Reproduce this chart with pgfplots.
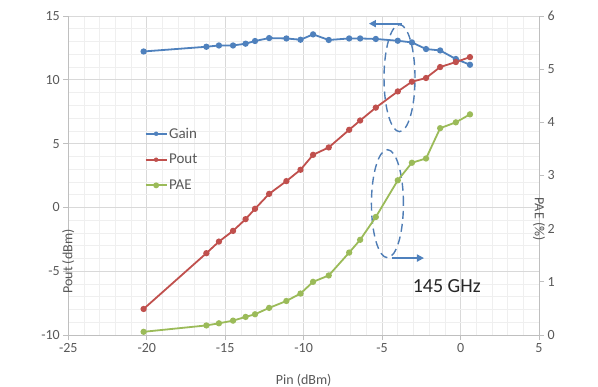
\documentclass[border=0pt]{standalone}
\usepackage{fontspec}
\setmainfont{Carlito}
\usepackage{pgfplots}
\pgfplotsset{compat=1.18}
\usetikzlibrary{arrows.meta}
\definecolor{cgain}{HTML}{4F81BD}
\definecolor{cpout}{HTML}{C0504D}
\definecolor{cpae}{HTML}{9BBB59}
\definecolor{ctxt}{HTML}{595959}
\definecolor{caxis}{HTML}{BFBFBF}
\definecolor{cgrid}{HTML}{D9D9D9}
\definecolor{cmgrid}{HTML}{EFEFEF}
\definecolor{cann}{HTML}{4F7DB5}
\pgfplotsset{
  common/.style={
    scale only axis, width=470.7bp, height=319bp,
    at={(68.3bp,52bp)}, anchor=south west,
    xmin=-25, xmax=5,
    /pgf/number format/assume math mode=true,
    tick label style={font=\fontsize{14bp}{16bp}\selectfont, text=ctxt},
    tick align=outside, major tick length=5bp, minor tick length=0pt,
    tick style={caxis, line width=0.8bp},
    axis line style={caxis, line width=0.8bp},
    clip=false,
  },
}
\begin{document}
\begin{tikzpicture}
\useasboundingbox (0,0) rectangle (598bp,387bp);
\begin{axis}[common,
  axis x line*=bottom, axis y line*=left,
  ymin=-10, ymax=15,
  xtick={-25,-20,...,5}, ytick={-10,-5,...,15},
  minor x tick num=4, minor y tick num=4,
  grid=both,
  major grid style={cgrid, line width=0.8bp},
  minor grid style={cmgrid, line width=0.6bp},
  xlabel={Pin (dBm)},
  ylabel={Pout (dBm)},
  every axis y label/.style={at={(rel axis cs:0,0.39)}, rotate=90, anchor=center, xshift=-51bp, font=\fontsize{14bp}{16bp}\selectfont, text=ctxt},
  every axis x label/.style={at={(rel axis cs:0.5,0)}, anchor=center, yshift=-45bp, font=\fontsize{14bp}{16bp}\selectfont, text=ctxt},
]
\addplot[cgain, line width=1.8bp, mark=*, mark size=2.2bp] coordinates {
(-20.2,12.22) (-16.2,12.59) (-15.4,12.69) (-14.5,12.69) (-13.7,12.83) (-13.1,13.04)
(-12.2,13.27) (-11.1,13.24) (-10.2,13.14) (-9.4,13.56) (-8.4,13.12) (-7.1,13.24)
(-6.4,13.24) (-5.4,13.2) (-4.0,13.06) (-3.1,12.93) (-2.2,12.41) (-1.3,12.3)
(-0.3,11.63) (0.6,11.18)};
\addplot[cpout, line width=1.8bp, mark=*, mark size=2.2bp] coordinates {
(-20.2,-7.96) (-16.2,-3.59) (-15.4,-2.68) (-14.5,-1.84) (-13.7,-0.92) (-13.1,-0.11)
(-12.2,1.06) (-11.1,2.06) (-10.2,2.95) (-9.4,4.12) (-8.4,4.7) (-7.1,6.08)
(-6.4,6.81) (-5.4,7.82) (-4.0,9.09) (-3.1,9.85) (-2.2,10.14) (-1.3,11.0)
(-0.3,11.39) (0.6,11.78)};
% annotations
\draw[cann, line width=1.4bp, dash pattern=on 8bp off 5bp] (axis cs:-3.89,10.13) ellipse [x radius=15.5bp, y radius=53.5bp];
\draw[cann, line width=1.4bp, dash pattern=on 8bp off 5bp] (axis cs:-4.66,0.29) ellipse [x radius=16bp, y radius=54bp];
\draw[cgain, line width=2bp, -{Triangle[length=7bp,width=7bp]}] (axis cs:-3.73,14.4) -- (axis cs:-5.84,14.4);
\draw[cgain, line width=2bp, -{Triangle[length=7bp,width=7bp]}] (axis cs:-4.39,-3.97) -- (axis cs:-2.33,-3.97);
\node[font=\fontsize{20bp}{22bp}\selectfont, text=black!85] at (axis cs:-0.88,-6.14) {145 GHz};
\end{axis}
\begin{axis}[common,
  axis x line=none, axis y line*=right,
  ymin=0, ymax=6, ytick={0,1,...,6},
  ylabel={PAE (\%)},
  every axis y label/.style={at={(rel axis cs:1,0.52)}, rotate=-90, anchor=center, xshift=50bp, font=\fontsize{14bp}{16bp}\selectfont, text=ctxt},
  legend style={at={(rel axis cs:0.162,0.65)}, anchor=north west, draw=none, fill=none,
    font=\fontsize{15bp}{17bp}\selectfont, text=ctxt, row sep=14.5bp, inner sep=0pt,
    nodes={inner xsep=1.5bp, inner ysep=0pt}},
  legend cell align=left,
  legend image code/.code={\draw[#1, line width=1.8bp] (0bp,0bp) -- (21bp,0bp); \fill[#1] (10.5bp,0bp) circle (2bp);},
]
\addlegendimage{cgain}
\addlegendentry{Gain}
\addlegendimage{cpout}
\addlegendentry{Pout}
\addplot[cpae, line width=1.8bp, mark=*, mark size=2.2bp] coordinates {
(-20.2,0.06) (-16.2,0.18) (-15.4,0.22) (-14.5,0.27) (-13.7,0.34) (-13.1,0.39)
(-12.2,0.51) (-11.1,0.64) (-10.2,0.78) (-9.4,1.0) (-8.4,1.12) (-7.1,1.55)
(-6.4,1.79) (-5.4,2.22) (-4.0,2.91) (-3.1,3.24) (-2.2,3.32) (-1.3,3.89)
(-0.3,4.0) (0.6,4.15)};
\addlegendentry{PAE}
\end{axis}
\end{tikzpicture}
\end{document}
